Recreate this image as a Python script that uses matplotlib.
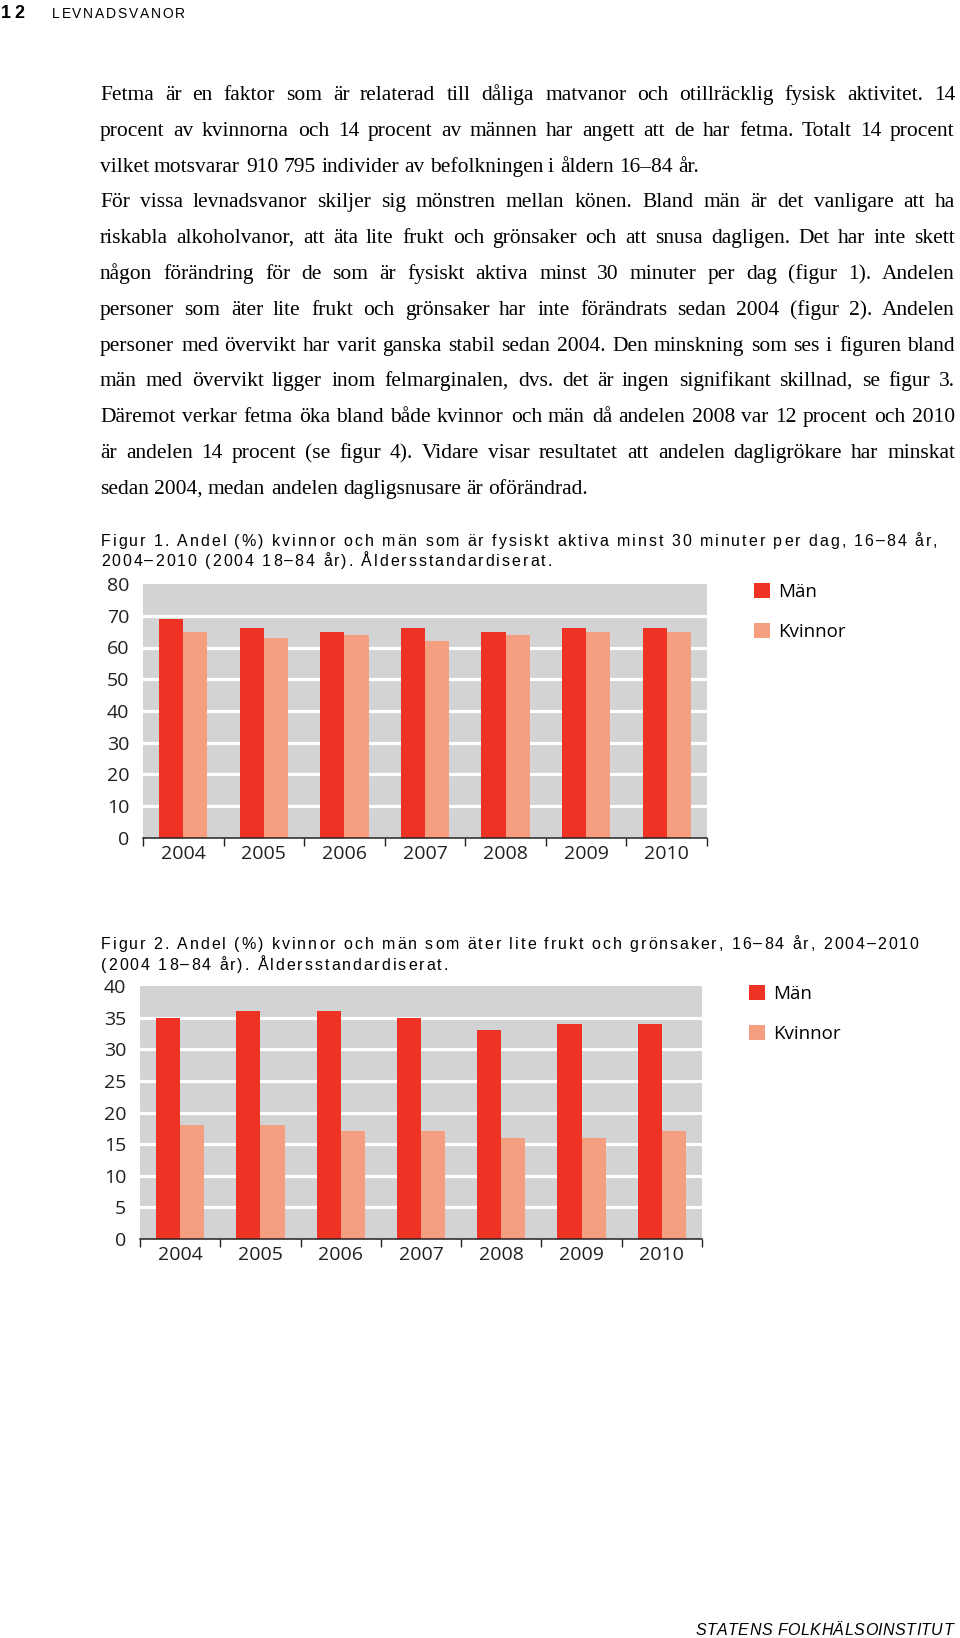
import matplotlib
matplotlib.use('Agg')
import matplotlib.pyplot as plt
import numpy as np

# data
years = ['2004', '2005', '2006', '2007', '2008', '2009', '2010']
active_men = [69, 66, 65, 66, 65, 66, 66]
active_women = [65, 63, 64, 62, 64, 65, 65]
fruit_men = [35, 36, 36, 35, 33, 34, 34]
fruit_women = [18, 18, 17, 17, 16, 16, 17]

body_lines = [
    "Fetma är en faktor som är relaterad till dåliga matvanor och otillräcklig fysisk aktivitet. 14",
    "procent av kvinnorna och 14 procent av männen har angett att de har fetma. Totalt 14 procent",
    "vilket motsvarar 910 795 individer av befolkningen i åldern 16–84 år.",
    "För vissa levnadsvanor skiljer sig mönstren mellan könen. Bland män är det vanligare att ha",
    "riskabla alkoholvanor, att äta lite frukt och grönsaker och att snusa dagligen. Det har inte skett",
    "någon förändring för de som är fysiskt aktiva minst 30 minuter per dag (figur 1). Andelen",
    "personer som äter lite frukt och grönsaker har inte förändrats sedan 2004 (figur 2). Andelen",
    "personer med övervikt har varit ganska stabil sedan 2004. Den minskning som ses i figuren bland",
    "män med övervikt ligger inom felmarginalen, dvs. det är ingen signifikant skillnad, se figur 3.",
    "Däremot verkar fetma öka bland både kvinnor och män då andelen 2008 var 12 procent och 2010",
    "är andelen 14 procent (se figur 4). Vidare visar resultatet att andelen dagligrökare har minskat",
    "sedan 2004, medan andelen dagligsnusare är oförändrad.",
]
paragraph_ends = [2, 11]

caption1 = ["Figur 1. Andel (%) kvinnor och män som är fysiskt aktiva minst 30 minuter per dag, 16–84 år,",
            "2004–2010 (2004 18–84 år). Åldersstandardiserat."]
caption2 = ["Figur 2. Andel (%) kvinnor och män som äter lite frukt och grönsaker, 16–84 år, 2004–2010",
            "(2004 18–84 år). Åldersstandardiserat."]

RED = '#EE3224'
SALMON = '#F59E80'
GRAY = '#D1D3D4'
DARK = '#231F20'

W, H = 960, 1638
fig = plt.figure(figsize=(W / 100, H / 100), dpi=100)
renderer = fig.canvas.get_renderer()


def px(x, y):
    return x / W, 1 - y / H


def text_width(s, **kw):
    t = fig.text(0, 0, s, **kw)
    w = t.get_window_extent(renderer).width
    t.remove()
    return w


def advance(c, **kw):
    return text_width('x' + c + 'x', **kw) - text_width('xx', **kw)


def tracked(x, y, s, track, ha='left', **kw):
    widths = [advance(c, **kw) for c in s]
    total = sum(widths) + track * (len(s) - 1)
    if ha == 'right':
        x -= total
    y = round(y)
    for c, w in zip(s, widths):
        if c != ' ':
            fig.text(*px(x, y), c, va='baseline', **kw)
        x += w + track


def justified(x0, x1, y, line, justify, **kw):
    words = line.split(' ')
    widths = [advance(w, **kw) for w in words]
    if justify:
        gap = (x1 - x0 - sum(widths)) / (len(words) - 1)
    else:
        gap = advance(' ', **kw)
    x = x0
    y = round(y)
    for w, wd in zip(words, widths):
        fig.text(*px(round(x), y), w, va='baseline', **kw)
        x += wd + gap


# page header / footer
tracked(1, 18, '12', 3, fontsize=13, weight='bold', family='Liberation Sans')
tracked(52, 18, 'LEVNADSVANOR', 1.7, fontsize=10, family='Liberation Sans')
tracked(953, 1635, 'STATENS FOLKHÄLSOINSTITUT', 0.5, ha='right',
        fontsize=11.5, style='italic', family='Liberation Sans')

# body text
body_kw = dict(fontsize=15.5, family='Liberation Serif', color='black')
for i, line in enumerate(body_lines):
    justified(100, 955, 100 + i * 35.8, line, i not in paragraph_ends, **body_kw)

cap_kw = dict(fontsize=11.5, family='Liberation Sans', color='black')
for i, line in enumerate(caption1):
    tracked(101, 546 + i * 20.5, line, 1.95, **cap_kw)
for i, line in enumerate(caption2):
    tracked(101, 949 + i * 20.5, line, 1.95, **cap_kw)


def draw_chart(left, right, top, bottom, men, women, ymax, step, leg_xy):
    ax = fig.add_axes([left / W, 1 - bottom / H, (right - left) / W, (bottom - top) / H])
    ax.set_facecolor(GRAY)
    x = np.arange(len(years))
    ax.bar(x - 0.15, men, 0.3, color=RED, label='Män', zorder=3)
    ax.bar(x + 0.15, women, 0.3, color=SALMON, label='Kvinnor', zorder=3)
    ax.set_xlim(-0.5, len(years) - 0.5)
    ax.set_ylim(0, ymax)
    ticks = np.arange(0, ymax + 1, step)
    ax.set_yticks(ticks)
    for v in ticks[1:-1]:
        ax.axhline(v, color='white', lw=2.3, zorder=2)
    for s in ['top', 'left', 'right']:
        ax.spines[s].set_visible(False)
    ax.spines['bottom'].set_color(DARK)
    ax.spines['bottom'].set_linewidth(1.1)
    ax.spines['bottom'].set_zorder(4)
    ax.set_xticks(x, years)
    ax.set_xticks(np.arange(-0.5, len(years)), minor=True)
    ax.tick_params(axis='x', which='major', length=0, pad=5, labelsize=14, labelcolor=DARK)
    ax.tick_params(axis='x', which='minor', length=5.5, width=1, color=DARK, direction='out')
    ax.tick_params(axis='y', length=0, pad=10, labelsize=14, labelcolor=DARK)
    for lab in ax.get_xticklabels() + ax.get_yticklabels():
        lab.set_family('Open Sans')
    ax.legend(loc='upper left', bbox_to_anchor=px(*leg_xy), bbox_transform=fig.transFigure,
              frameon=False, handlelength=0.85, handleheight=0.85, handletextpad=0.45,
              labelspacing=1.15, borderpad=0, borderaxespad=0,
              prop={'family': 'Open Sans', 'size': 13.5})
    return ax


draw_chart(143, 707, 584, 838, active_men, active_women, 80, 10, (754, 583))
draw_chart(140, 702, 986, 1239, fruit_men, fruit_women, 40, 5, (749, 985))

fig.savefig('out.png', dpi=100)
